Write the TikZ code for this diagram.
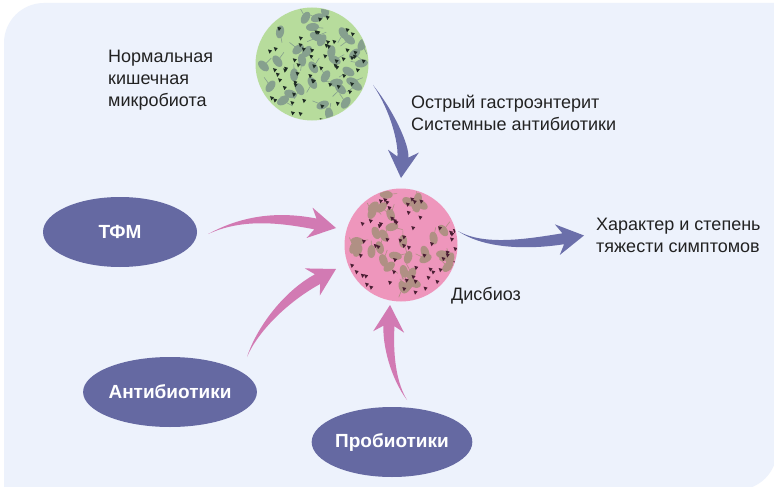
\documentclass[tikz,border=0pt]{standalone}
\usepackage{fontspec}
\setmainfont{Liberation Sans}
\usetikzlibrary{shapes.geometric,calc}
\definecolor{bgc}{HTML}{EDF2FC}
\definecolor{ellc}{HTML}{6569A2}
\definecolor{bluearr}{HTML}{6B6FAA}
\definecolor{pinkarr}{HTML}{D27AB3}
\definecolor{greenc}{HTML}{B7DC9C}
\definecolor{pinkc}{HTML}{EE96BC}
\definecolor{gblob}{HTML}{86A08E}
\definecolor{gdot}{HTML}{1E2B24}
\definecolor{pblob}{HTML}{B09084}
\definecolor{pdot}{HTML}{4A1E33}
\definecolor{txt}{HTML}{222222}
\tikzset{
  lbl/.style={font=\fontsize{18}{22}\selectfont, text=txt, align=left, inner sep=0pt, anchor=north west},
  ell/.style={ellipse, fill=ellc, text=white, font=\bfseries\fontsize{19}{22}\selectfont,
              minimum width=154pt, minimum height=70pt, inner sep=0pt},
  disc/.style={circle, inner sep=0pt, minimum size=113pt},
}
% tapered curved arrow: #1 tail, #2 control 1, #3 control 2, #4 tip, #5 colour
\newcommand\taperarrow[5]{%
  \coordinate (tB) at ($(#4)!21pt!(#3)$);
  \coordinate (tW) at ($(#4)!27pt!(#3)$);
  \coordinate (tL) at ($(tB)!5.5pt!90:(#4)$);
  \coordinate (tR) at ($(tB)!5.5pt!-90:(#4)$);
  \coordinate (hL) at ($(tW)!15.5pt!90:(#4)$);
  \coordinate (hR) at ($(tW)!15.5pt!-90:(#4)$);
  \fill[#5] (#1) .. controls ($(#2)+0.3*(tL)-0.3*(tB)$) and ($(#3)+(tL)-(tB)$) .. (tL)
     -- (hL) -- (#4) -- (hR) -- (tR)
     .. controls ($(#3)+(tR)-(tB)$) and ($(#2)+0.3*(tR)-0.3*(tB)$) .. (#1) -- cycle;
}
% texture of bacteria inside a disc: #1 cx, #2 cy, #3 blob colour, #4 dot colour, #5 seed
\newcommand\bacteria[5]{%
  \begin{scope}
    \clip (#1,#2) circle (56pt);
    \pgfmathsetseed{#5}
    \foreach \i in {1,...,36}{
      \pgfmathsetmacro\ra{sqrt(rnd)*55}
      \pgfmathsetmacro\an{rnd*360}
      \pgfmathsetmacro\ro{rnd*360}
      \pgfmathsetmacro\px{#1+\ra*cos(\an)}
      \pgfmathsetmacro\py{#2+\ra*sin(\an)}
      \fill[#3, rotate around={\ro:(\px,\py)}] (\px,\py) ellipse (6.5pt and 4pt);
      \draw[#3, line width=0.6pt] (\px,\py) -- ++(\ro+180:11);
    }
    \foreach \i in {1,...,60}{
      \pgfmathsetmacro\ra{sqrt(rnd)*55}
      \pgfmathsetmacro\an{rnd*360}
      \pgfmathsetmacro\px{#1+\ra*cos(\an)}
      \pgfmathsetmacro\py{#2+\ra*sin(\an)}
      \fill[#4] (\px,\py) -- ++(4,1) -- ++(-2.5,3.2) -- cycle;
    }
  \end{scope}
}
\begin{document}
\begin{tikzpicture}[x=1pt, y=-1pt]
\useasboundingbox (0,0) rectangle (774,487);
\fill[white] (0,0) rectangle (774,487);
\fill[bgc] (4,492) {[rounded corners=40pt] -- (4,3) -- (400,3)} -- (777,3)
   {[rounded corners=40pt] -- (777,490) -- (400,490)} -- cycle;

% discs
\node[disc, fill=greenc] (norm) at (312,64) {};
\bacteria{312}{64}{gblob}{gdot}{7}
\node[disc, fill=pinkc] (dys) at (401,245) {};
\bacteria{401}{245}{pblob}{pdot}{11}

% ellipses
\node[ell] (tfm) at (120,232) {ТФМ};
\node[ell] (anti) at (170,392) {Антибиотики};
\node[ell] (prob) at (392,442) {Пробиотики};

% labels
\node[lbl] (normlbl) at (108,50) {Нормальная\\кишечная\\микробиота};
\node[lbl] (cause) at (411,95) {Острый гастроэнтерит\\Системные антибиотики};
\node[lbl] (sympt) at (596,218) {Характер и степень\\тяжести симптомов};
\node[lbl] (dyslbl) at (451,287) {Дисбиоз};

% connector end points
\coordinate (a1s) at ($(norm)+(61,21)$);
\coordinate (a1e) at ($(dys)+(0,-67)$);
\coordinate (a2s) at ($(tfm.east)+(11,2)$);
\coordinate (a2e) at ($(dys)+(-65,-17)$);
\coordinate (a3s) at ($(anti)+(77,-35)$);
\coordinate (a3e) at ($(dys)+(-65,24)$);
\coordinate (a4s) at ($(prob)+(15,-42)$);
\coordinate (a4e) at ($(dys)+(-11,60)$);
\coordinate (a5s) at ($(dys)+(57,-14)$);
\coordinate (a5e) at ($(sympt.west)+(-12,0)$);

\taperarrow{a1s}{393,112}{404,145}{a1e}{bluearr}
\taperarrow{a2s}{240,218}{275,216}{a2e}{pinkarr}
\taperarrow{a3s}{257,330}{285,297}{a3e}{pinkarr}
\taperarrow{a4s}{392,378}{388,345}{a4e}{pinkarr}
\taperarrow{a5s}{485,248}{530,244}{a5e}{bluearr}
\end{tikzpicture}
\end{document}
